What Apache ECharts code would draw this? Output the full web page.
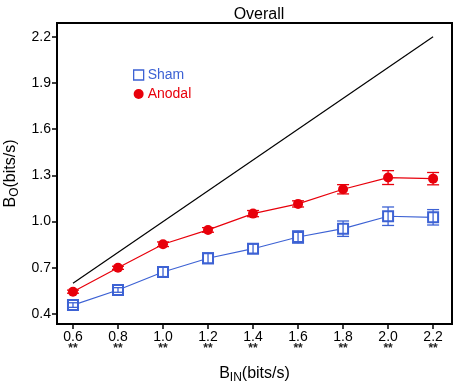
<!DOCTYPE html>
<html>
<head>
<meta charset="utf-8">
<script src="https://cdn.jsdelivr.net/npm/echarts@6/dist/echarts.min.js"></script>
<style>
  html, body { margin: 0; padding: 0; background: #fff; }
  #chart { width: 454px; height: 382px; }
</style>
</head>
<body>
<div id="chart"></div>
<script>
// input bit rates (x) and mean output rates with error bar half-widths
var bIn = [0.6, 0.8, 1.0, 1.2, 1.4, 1.6, 1.8, 2.0, 2.2];
var shamMean = [0.458, 0.556, 0.673, 0.762, 0.824, 0.90, 0.954, 1.035, 1.028];
var shamErr = [0.015, 0.015, 0.03, 0.035, 0.03, 0.04, 0.05, 0.06, 0.05];
var anodalMean = [0.545, 0.70, 0.853, 0.946, 1.052, 1.115, 1.21, 1.286, 1.279];
var anodalErr = [0.01, 0.01, 0.015, 0.015, 0.02, 0.02, 0.03, 0.045, 0.04];
var identity = [[0.6, 0.6], [2.2, 2.2]];
var xTicks = [0.6, 0.8, 1.0, 1.2, 1.4, 1.6, 1.8, 2.0, 2.2];
var yTicks = [0.4, 0.7, 1.0, 1.3, 1.6, 1.9, 2.2];

var BLUE = "#3d62d4";
var RED = "#e8000b";

function pairs(ys) {
  return bIn.map(function (x, i) { return [x, ys[i]]; });
}
function errData(ys, es) {
  return bIn.map(function (x, i) { return [x, ys[i] - es[i], ys[i] + es[i]]; });
}
function errBars(color) {
  return function (params, api) {
    var lo = api.coord([api.value(0), api.value(1)]);
    var hi = api.coord([api.value(0), api.value(2)]);
    var w = 6;
    var st = { stroke: color, lineWidth: 1.3 };
    return {
      type: "group",
      children: [
        { type: "line", shape: { x1: lo[0], y1: lo[1], x2: hi[0], y2: hi[1] }, style: st },
        { type: "line", shape: { x1: lo[0] - w, y1: lo[1], x2: lo[0] + w, y2: lo[1] }, style: st },
        { type: "line", shape: { x1: hi[0] - w, y1: hi[1], x2: hi[0] + w, y2: hi[1] }, style: st }
      ]
    };
  };
}

var chart = echarts.init(document.getElementById("chart"));
chart.setOption({
  animation: false,
  textStyle: { fontFamily: "Liberation Sans, Arial, sans-serif" },
  title: {
    text: "Overall",
    left: 254,
    textAlign: "center",
    top: 2,
    textStyle: { fontSize: 16, fontWeight: "normal", color: "#000" }
  },
  legend: {
    orient: "vertical",
    left: 128,
    top: 63,
    itemGap: 5,
    itemWidth: 10,
    itemHeight: 10,
    data: [
      { name: "Sham", icon: "rect", itemStyle: { color: "#fff", borderColor: BLUE, borderWidth: 1.3 }, textStyle: { color: BLUE } },
      { name: "Anodal", icon: "circle", itemStyle: { color: RED }, textStyle: { color: RED } }
    ],
    textStyle: { fontSize: 14, padding: [0, 0, 0, -1] }
  },
  grid: {
    left: 57, right: 2, top: 23, bottom: 58,
    outerBoundsMode: "none",
    containLabel: false,
    show: true, borderColor: "#000", borderWidth: 2
  },
  xAxis: {
    type: "value",
    min: 0.529,
    max: 2.284,
    splitLine: { show: false },
    axisLine: { show: true, onZero: false, lineStyle: { color: "#000", width: 2 } },
    axisTick: { show: true, customValues: xTicks, length: 5, lineStyle: { color: "#000", width: 1.5 } },
    axisLabel: {
      customValues: xTicks,
      margin: 6,
      color: "#000",
      fontSize: 14,
      lineHeight: 14,
      formatter: function (v) { return v.toFixed(1) + "\n{s|**}"; },
      rich: { s: { fontSize: 12, lineHeight: 9, color: "#222", fontWeight: "bold" } }
    },
    name: "{b|B}{s|IN}{b|(bits/s)}",
    nameLocation: "middle",
    nameGap: 40,
    nameTextStyle: {
      rich: {
        b: { fontSize: 16, color: "#000" },
        s: { fontSize: 12, color: "#000", verticalAlign: "bottom", padding: [8, 0, 0, 0] }
      }
    }
  },
  yAxis: {
    type: "value",
    min: 0.335,
    max: 2.29,
    splitLine: { show: false },
    axisLine: { show: true, onZero: false, lineStyle: { color: "#000", width: 2 } },
    axisTick: { show: true, customValues: yTicks, length: 5, lineStyle: { color: "#000", width: 1.5 } },
    axisLabel: {
      customValues: yTicks,
      margin: 6,
      color: "#000",
      fontSize: 14,
      formatter: function (v) { return v.toFixed(1); }
    },
    name: "{b|B}{s|O}{b|(bits/s)}",
    nameLocation: "middle",
    nameRotate: 90,
    nameGap: 32,
    nameTextStyle: {
      rich: {
        b: { fontSize: 16, color: "#000" },
        s: { fontSize: 12, color: "#000", verticalAlign: "bottom", padding: [8, 0, 0, 0] }
      }
    }
  },
  series: [
    {
      name: "identity",
      type: "line",
      data: identity,
      symbol: "none",
      lineStyle: { color: "#000", width: 1.2 },
      z: 1
    },
    {
      name: "Sham",
      type: "line",
      data: pairs(shamMean),
      symbol: "emptyRect",
      symbolSize: 10,
      itemStyle: { color: BLUE, borderColor: BLUE, borderWidth: 1.5 },
      lineStyle: { color: BLUE, width: 1.2 },
      z: 3
    },
    {
      type: "custom",
      data: errData(shamMean, shamErr),
      renderItem: errBars(BLUE),
      encode: { x: 0, y: [1, 2] },
      z: 4
    },
    {
      name: "Anodal",
      type: "line",
      data: pairs(anodalMean),
      symbol: "circle",
      symbolSize: 10,
      itemStyle: { color: RED },
      lineStyle: { color: RED, width: 1.2 },
      z: 3
    },
    {
      type: "custom",
      data: errData(anodalMean, anodalErr),
      renderItem: errBars(RED),
      encode: { x: 0, y: [1, 2] },
      z: 4
    }
  ]
});
</script>
</body>
</html>
